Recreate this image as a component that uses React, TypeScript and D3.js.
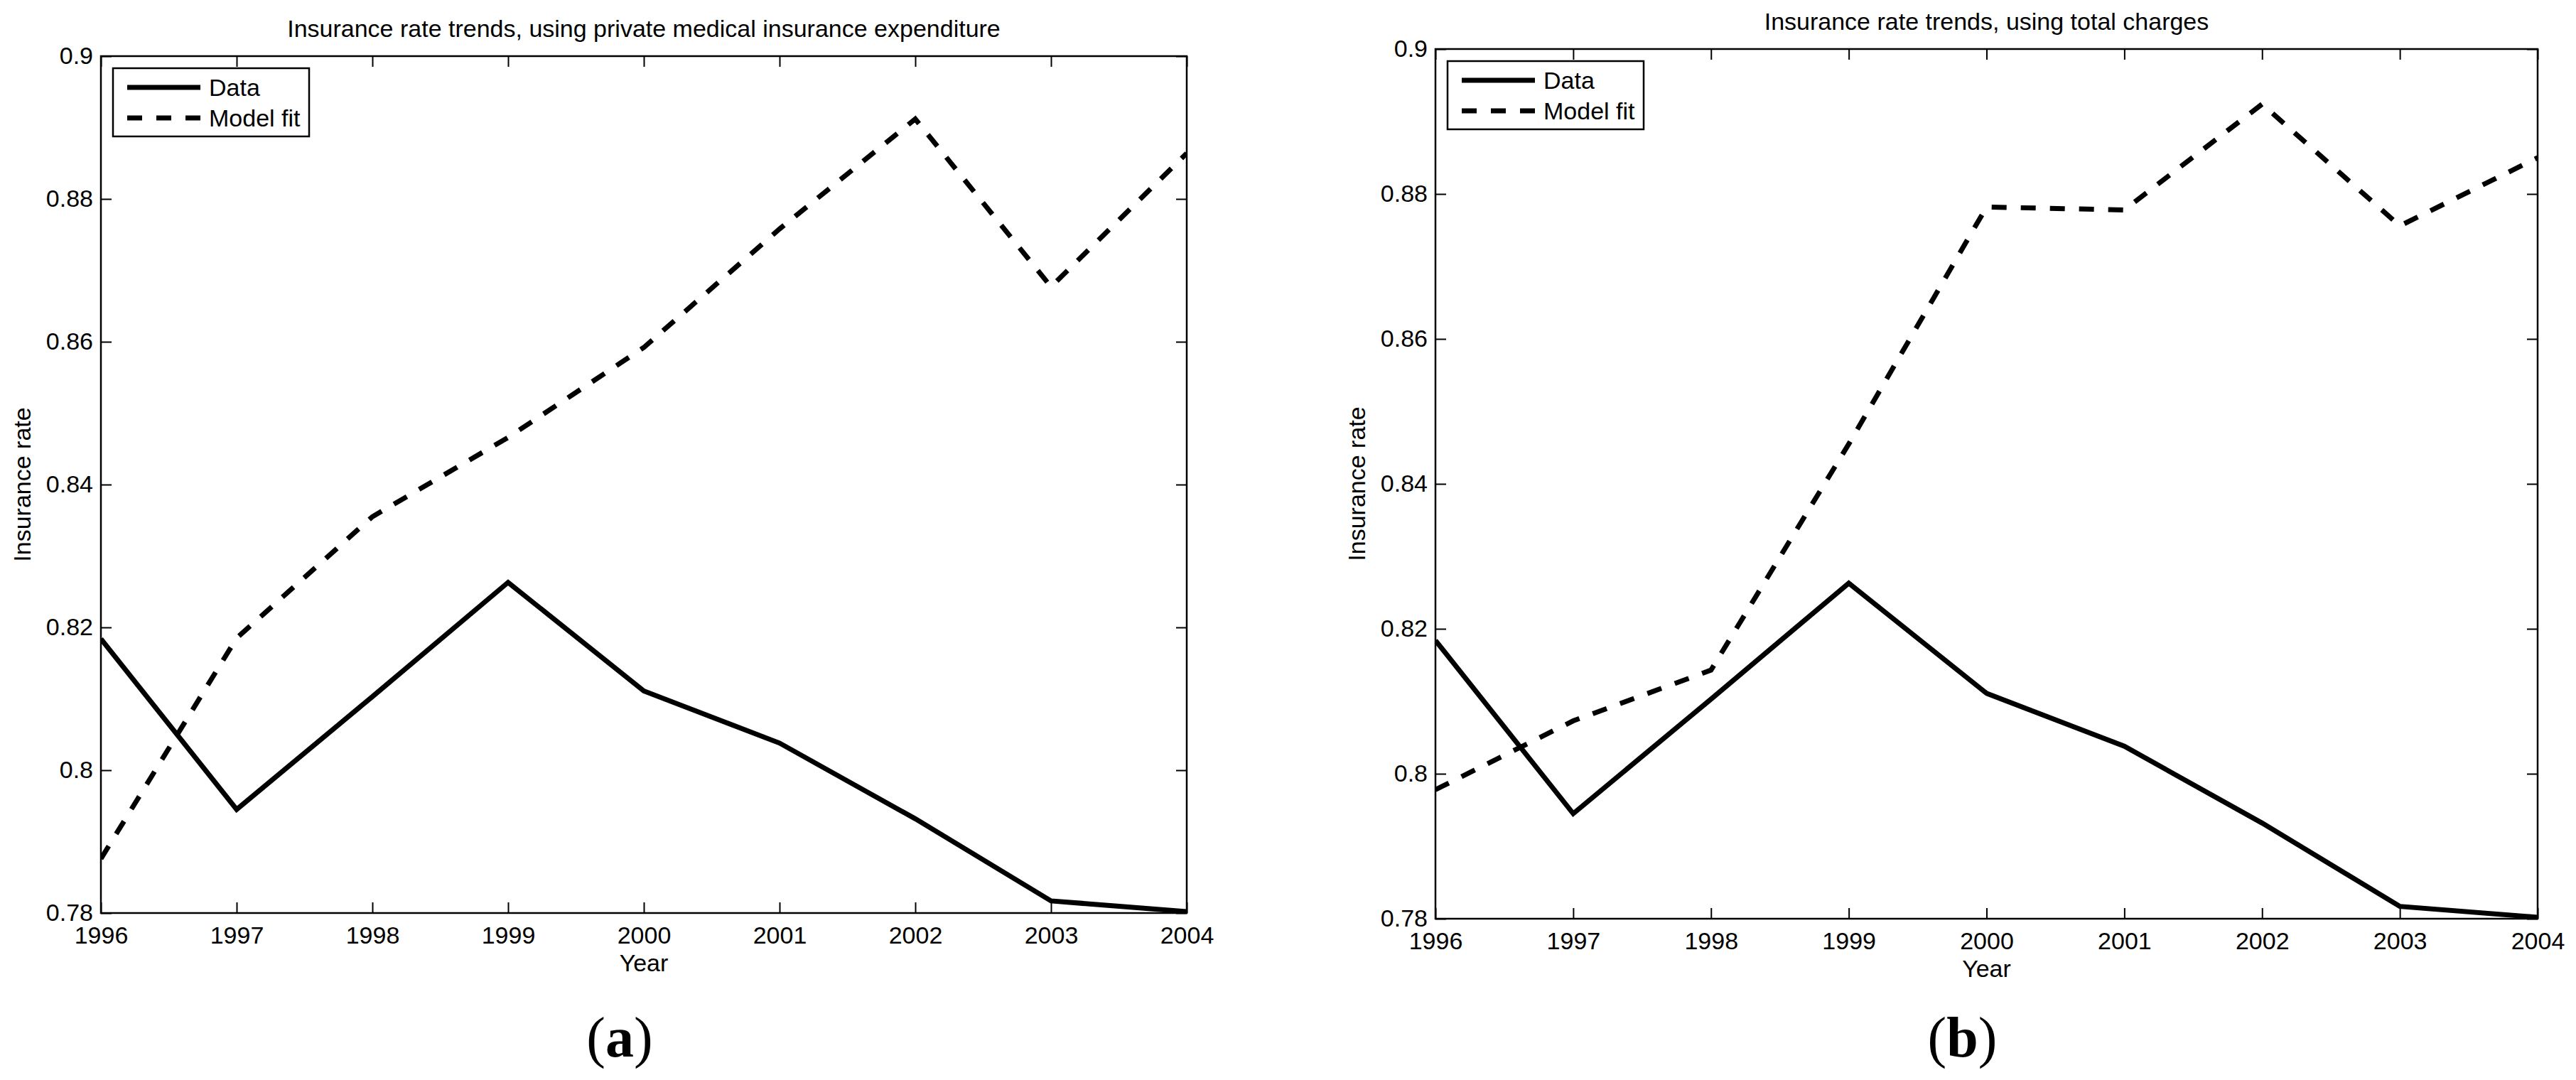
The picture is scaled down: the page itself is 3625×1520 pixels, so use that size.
import React, { useEffect, useRef } from 'react';
import * as d3 from 'd3';

// values
const years = [1996, 1997, 1998, 1999, 2000, 2001, 2002, 2003, 2004];
const dataRate = [0.8184, 0.7945, 0.8103, 0.8263, 0.8111, 0.8038, 0.7932, 0.7817, 0.7802];
const fitPrivate = [0.7876, 0.8185, 0.8355, 0.8466, 0.8592, 0.8758, 0.8912, 0.8677, 0.8864];
const fitTotal = [0.7978, 0.8073, 0.8143, 0.8455, 0.8782, 0.8778, 0.8924, 0.8756, 0.885];
const yTicks = [0.78, 0.8, 0.82, 0.84, 0.86, 0.88, 0.9];
const legendLabels = ['Data', 'Model fit'];

const panels = [
  {
    id: 'a',
    title: 'Insurance rate trends, using private medical insurance expenditure',
    fit: fitPrivate,
    left: 142, right: 1670, top: 79, bottom: 1285,
  },
  {
    id: 'b',
    title: 'Insurance rate trends, using total charges',
    fit: fitTotal,
    left: 2020, right: 3571, top: 69, bottom: 1293,
  },
];

const W = 3625;
const H = 1520;
const FONT = '"Liberation Sans", Arial, Helvetica, sans-serif';
const LINE_W = 7;
const DASH = '21,20';

const App = () => {
  const ref = useRef<SVGSVGElement | null>(null);

  useEffect(() => {
    const svg = d3.select(ref.current);
    svg.selectAll('*').remove();

    svg.append('rect').attr('width', W).attr('height', H).attr('fill', 'white');

    panels.forEach((p) => {
      const w = p.right - p.left;
      const h = p.bottom - p.top;
      const x = d3.scaleLinear().domain([1996, 2004]).range([0, w]);
      const y = d3.scaleLinear().domain([0.78, 0.9]).range([h, 0]);

      const g = svg.append('g').attr('transform', `translate(${p.left}, ${p.top})`);

      g.append('clipPath').attr('id', `clip-${p.id}`)
        .append('rect').attr('width', w).attr('height', h);

      const styleAxis = (sel: any) => {
        sel.attr('font-family', FONT).attr('font-size', 34);
        sel.select('.domain').remove();
        sel.selectAll('.tick line').attr('stroke', 'black').attr('stroke-width', 2);
        sel.selectAll('.tick text').attr('fill', 'black');
      };

      // bottom + left with labels, ticks pointing inward
      g.append('g')
        .attr('transform', `translate(0, ${h})`)
        .call(d3.axisBottom(x).tickValues(years).tickFormat(d3.format('d')).tickSizeInner(-15).tickSizeOuter(0).tickPadding(19))
        .call(styleAxis);
      g.append('g')
        .call(d3.axisLeft(y).tickValues(yTicks).tickFormat(d3.format('~g')).tickSizeInner(-15).tickSizeOuter(0).tickPadding(11))
        .call(styleAxis);
      // mirrored ticks on top + right
      g.append('g')
        .call(d3.axisTop(x).tickValues(years).tickFormat(() => '').tickSizeInner(-15).tickSizeOuter(0))
        .call(styleAxis);
      g.append('g')
        .attr('transform', `translate(${w}, 0)`)
        .call(d3.axisRight(y).tickValues(yTicks).tickFormat(() => '').tickSizeInner(-15).tickSizeOuter(0))
        .call(styleAxis);

      // box
      g.append('rect')
        .attr('width', w).attr('height', h)
        .attr('fill', 'none').attr('stroke', 'black').attr('stroke-width', 2.5);

      const line = d3.line<number>()
        .x((d, i) => x(years[i]))
        .y((d) => y(d));

      const lines = g.append('g').attr('clip-path', `url(#clip-${p.id})`);
      lines.append('path')
        .attr('d', line(dataRate))
        .attr('fill', 'none').attr('stroke', 'black').attr('stroke-width', LINE_W);
      lines.append('path')
        .attr('d', line(p.fit))
        .attr('fill', 'none').attr('stroke', 'black').attr('stroke-width', LINE_W)
        .attr('stroke-dasharray', DASH);

      // legend
      const lg = g.append('g').attr('transform', 'translate(17, 17)');
      lg.append('rect')
        .attr('width', 276).attr('height', 96)
        .attr('fill', 'white').attr('stroke', 'black').attr('stroke-width', 2.5);
      legendLabels.forEach((lab, i) => {
        const ly = 27 + i * 43;
        lg.append('line')
          .attr('x1', 20).attr('x2', 123).attr('y1', ly).attr('y2', ly)
          .attr('stroke', 'black').attr('stroke-width', LINE_W)
          .attr('stroke-dasharray', i === 0 ? null : DASH);
        lg.append('text')
          .attr('x', 135).attr('y', ly).attr('dy', '0.36em')
          .attr('font-family', FONT).attr('font-size', 34)
          .text(lab);
      });

      // title
      g.append('text')
        .attr('x', w / 2).attr('y', -27)
        .attr('text-anchor', 'middle')
        .attr('font-family', FONT).attr('font-size', 34)
        .text(p.title);

      // axis labels
      g.append('text')
        .attr('x', w / 2).attr('y', h + 82)
        .attr('text-anchor', 'middle')
        .attr('font-family', FONT).attr('font-size', 34)
        .text('Year');
      g.append('text')
        .attr('transform', `translate(-99, ${h / 2}) rotate(-90)`)
        .attr('text-anchor', 'middle')
        .attr('font-family', FONT).attr('font-size', 34)
        .text('Insurance rate');

      // panel tag
      svg.append('text')
        .attr('x', p.left + w / 2 - 34).attr('y', 1487)
        .attr('text-anchor', 'middle')
        .attr('font-family', '"Liberation Serif", "Times New Roman", serif')
        .attr('font-size', 80)
        .text('(')
        .append('tspan').attr('font-weight', 'bold').text(p.id)
        .select(function () { return (this as any).parentNode; })
        .append('tspan').text(')');
    });
  }, []);

  return (
    <svg
      ref={ref}
      width={W}
      height={H}
      style={{ position: 'absolute', left: 0, top: 0, display: 'block' }}
    />
  );
};

export default App;
